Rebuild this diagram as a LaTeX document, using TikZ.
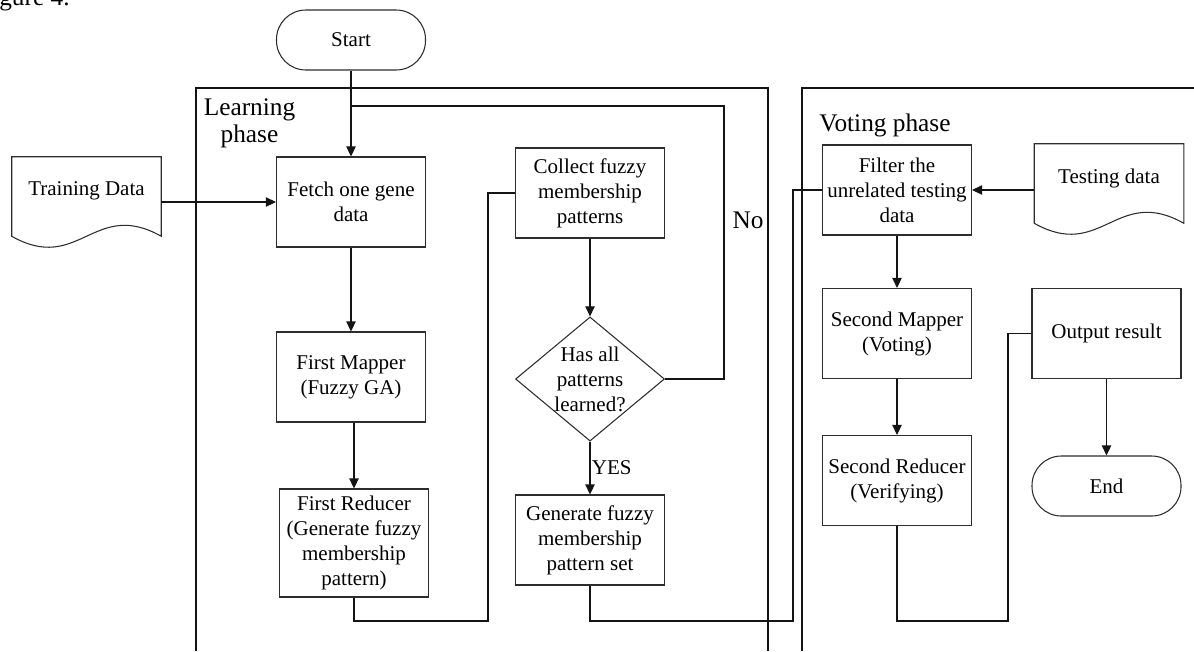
\documentclass[tikz,border=0pt]{standalone}
\usepackage{fontspec}
\setmainfont{Liberation Serif}
\usetikzlibrary{arrows.meta,shapes.geometric,calc}
\definecolor{boxborder}{RGB}{45,45,45}
\definecolor{flowline}{RGB}{20,20,20}
\tikzset{
  txt/.style       = {font=\fontsize{15.75}{18.75}\selectfont},
  phase/.style     = {font=\fontsize{19}{20.5}\selectfont, inner sep=0pt},
  procbox/.style   = {draw=boxborder, line width=0.8pt, align=center, txt,
                      minimum width=111.75pt, minimum height=67.5pt, inner sep=2pt},
  terminal/.style  = {procbox, rounded corners=22pt, minimum height=45pt},
  decision/.style  = {diamond, draw=boxborder, line width=0.8pt, align=center, txt,
                      aspect=1.2, inner sep=0pt},
  docnode/.style   = {txt, minimum width=111.75pt, minimum height=51pt, inner sep=0pt},
  docline/.style   = {draw=boxborder, line width=0.8pt},
  frameline/.style = {draw=flowline, line width=0.9pt},
  link/.style      = {draw=flowline, line width=0.8pt},
  flow/.style      = {link, -{Triangle[length=7.5pt, width=7pt]}},
}
% outline of a document symbol round node #1 (wavy bottom)
\newcommand{\docoutline}[1]{%
  \draw[docline] (#1.north west) -- (#1.north east) -- ([yshift=-8.25pt]#1.south east)
    .. controls ([yshift=20.25pt]$(#1.south west)!0.55!(#1.south east)$)
       and ([yshift=-36.75pt]$(#1.south west)!0.45!(#1.south east)$)
    .. ([yshift=-8.25pt]#1.south west) -- cycle;}

\begin{document}
\begin{tikzpicture}[x=0.75pt, y={(0,-0.75pt)}]

  % ── page frame ──
  \path[use as bounding box, clip] (0,0) rectangle (1194,651);

  % caption remnant at the top edge
  \node[phase, anchor=base west] (capfrag) at (-1,5.5) {gure 4.};

  % ──────────────────────────────────────────────
  %  PHASE FRAMES
  % ──────────────────────────────────────────────
  \draw[frameline] (196,651) -- (196,88) -- (768,88) -- (768,651);
  \draw[frameline] (802,651) -- (802,88) -- (1194,88);
  \node[phase, align=center] (learnlbl) at (249.5,123) {Learning\\phase};
  \node[phase] (votelbl) at (885,125) {Voting phase};

  % ══════════════════════════════════════════════
  %  LEARNING PHASE
  % ══════════════════════════════════════════════
  \node[terminal] (start)   at (351,40)  {Start};
  \node[procbox]  (fetch)   at (351,202) {Fetch one gene\\data};
  \node[procbox]  (mapA)    at (351,377) {First Mapper\\(Fuzzy GA)};
  \node[procbox, minimum height=81pt]
                  (redA)    at (354,543) {First Reducer\\(Generate fuzzy\\membership\\pattern)};
  \node[procbox]  (collect) at (590,193) {Collect fuzzy\\membership\\patterns};
  \node[decision] (learned) at (590,379) {Has all\\patterns\\learned?};
  \node[procbox]  (genset)  at (590,540) {Generate fuzzy\\membership\\pattern set};

  % training data document
  \node[docnode] (train) at (86.5,191) {Training Data};
  \docoutline{train}

  % ══════════════════════════════════════════════
  %  VOTING PHASE
  % ══════════════════════════════════════════════
  \node[procbox]  (filter) at (897,190)      {Filter the\\unrelated testing\\data};
  \node[procbox]  (mapB)   at (897,333.5)    {Second Mapper\\(Voting)};
  \node[procbox]  (redB)   at (897,480.5)    {Second Reducer\\(Verifying)};
  \node[procbox]  (output) at (1106.5,333.5) {Output result};
  \node[terminal] (finish) at (1106.5,486)   {End};

  % testing data document
  \node[docnode] (test) at (1109,178) {Testing data};
  \docoutline{test}

  % ──────────────────────────────────────────────
  %  CONNECTORS
  % ──────────────────────────────────────────────
  \coordinate (loopR) at (724,106);
  \coordinate (jA)    at (488,621);
  \coordinate (jC)    at (793,621);
  \coordinate (jD)    at (1008,621);

  \draw[flow] (start) -- (fetch);
  \draw[flow] (train.east |- fetch.west) -- (fetch.west);
  \draw[flow] (fetch) -- (mapA);
  \draw[flow] (redA.north |- mapA.south) -- (redA.north);
  \draw[link] (redA.south) |- (jA) |- (collect.west);
  \draw[flow] (collect) -- (learned);
  \draw[link] (learned.east) -| (loopR) -- (loopR -| start.south);
  \draw[flow] (learned) -- node[txt, right, inner sep=1pt] (yes) {YES} (genset);
  \node[phase] (no) at (748,220) {No};

  \draw[link] (genset.south) |- (jC) |- (filter.west);
  \draw[flow] (test.west |- filter.east) -- (filter.east);
  \draw[flow] (filter) -- (mapB);
  \draw[flow] (mapB) -- (redB);
  \draw[link] (redB.south) |- (jD) |- (output.west);
  \draw[flow] (output) -- (finish);

\end{tikzpicture}
\end{document}
